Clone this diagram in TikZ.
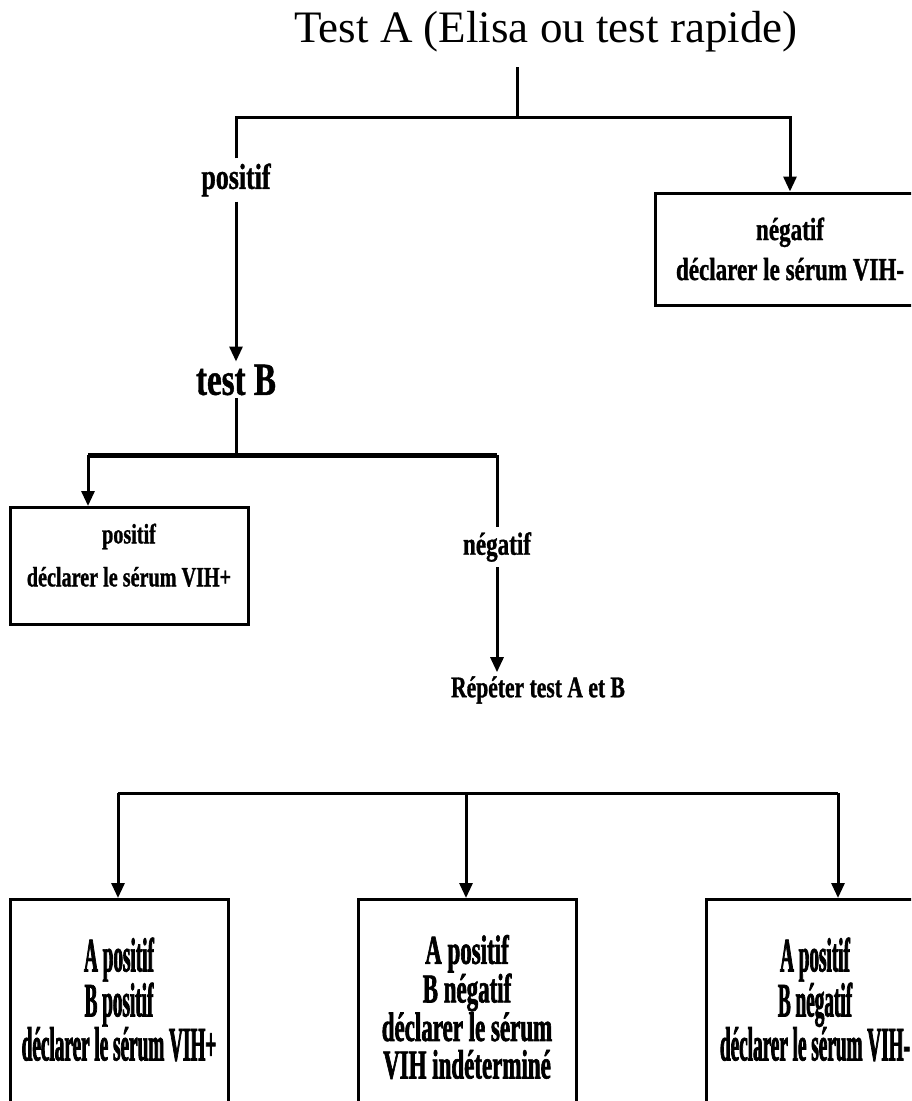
\documentclass[tikz,border=0pt]{standalone}
\usepackage{fontspec}
\setmainfont{Liberation Serif}
\newfontfamily\narrowbf{Liberation Serif Bold}[FakeStretch=0.72,FakeBold=1]
\newfontfamily\tightbf{Liberation Serif Bold}[FakeStretch=0.40,FakeBold=1.5]
\newfontfamily\midbf{Liberation Serif Bold}[FakeStretch=0.56,FakeBold=1.5]
\usetikzlibrary{arrows.meta}
\tikzset{
  line/.style={line width=3pt},
  arrow/.style={line width=3pt,-{Triangle[length=15pt,width=13pt]}},
  lbl/.style={font=\narrowbf\fontsize{36}{40}\selectfont,inner sep=5pt},
  result/.style={draw,line width=3pt,align=center,inner sep=0pt},
  finalbox/.style={result,minimum width=218pt,minimum height=215pt}
}
\begin{document}
\begin{tikzpicture}[x=1pt,y=-1pt]
\useasboundingbox (0,0) rectangle (911,1101);
\clip (0,0) rectangle (911,1101);
\node (title) at (546,32) {\fontsize{45}{50}\selectfont Test A (Elisa ou test rapide)};
\coordinate (fork1) at (517,117);
\node[lbl] (pos1) at (236,180) {positif};
\node[result,minimum width=270pt,minimum height=112pt,
  font=\narrowbf\fontsize{32}{40}\selectfont] (negbox) at (790,249)
  {négatif\\déclarer le sérum VIH-};
\node[lbl,font=\narrowbf\fontsize{46}{50}\selectfont,inner sep=3pt] (testB) at (236,380) {test B};
\draw[line,shorten >=11pt] (fork1) -- (fork1 |- title.south);
\draw[line] (pos1.north) |- (fork1);
\draw[arrow] (fork1) -| (negbox.north);
\draw[arrow] (pos1.south) -- (testB.north);

\coordinate (fork2) at (236,455);
\coordinate (fork2l) at (88,455);
\coordinate (fork2r) at (497,455);
\node[result,minimum width=238pt,minimum height=117pt,text depth=22pt,
  font=\narrowbf\fontsize{28}{43}\selectfont] (posbox) at (129,566)
  {positif\\déclarer le sérum VIH+};
\node[lbl,font=\narrowbf\fontsize{32}{36}\selectfont] (neg2) at (497,547) {négatif};
\node[lbl,font=\narrowbf\fontsize{30}{34}\selectfont,inner sep=4pt] (repeat) at (538,690) {Répéter test A et B};
\draw[line] (testB.south) -- (fork2);
\draw[line,line width=5pt] (fork2l) -- (fork2r);
\draw[arrow] (fork2l) -- (posbox.north -| fork2l);
\draw[line] (fork2r) -- (neg2.north);
\draw[arrow] (neg2.south) -- (repeat.north -| neg2);

\coordinate (fork3l) at (118,793);
\coordinate (fork3m) at (466,793);
\coordinate (fork3r) at (838,793);
\node[finalbox,text depth=16pt,font=\tightbf\fontsize{48}{44}\selectfont] (final1) at (119,1007)
  {A positif\\B positif\\déclarer le sérum VIH+};
\node[finalbox,font=\midbf\fontsize{41}{37.5}\selectfont] (final2) at (467,1007)
  {A positif\\B négatif\\déclarer le sérum\\VIH indéterminé};
\node[finalbox,text depth=16pt,font=\tightbf\fontsize{48}{44}\selectfont] (final3) at (815,1007)
  {A positif\\B négatif\\déclarer le sérum VIH-};
\draw[line] (fork3l) -- (fork3r);
\draw[arrow] (fork3l) -- (final1.north -| fork3l);
\draw[arrow] (fork3m) -- (final2.north -| fork3m);
\draw[arrow] (fork3r) -- (final3.north -| fork3r);
\end{tikzpicture}
\end{document}
